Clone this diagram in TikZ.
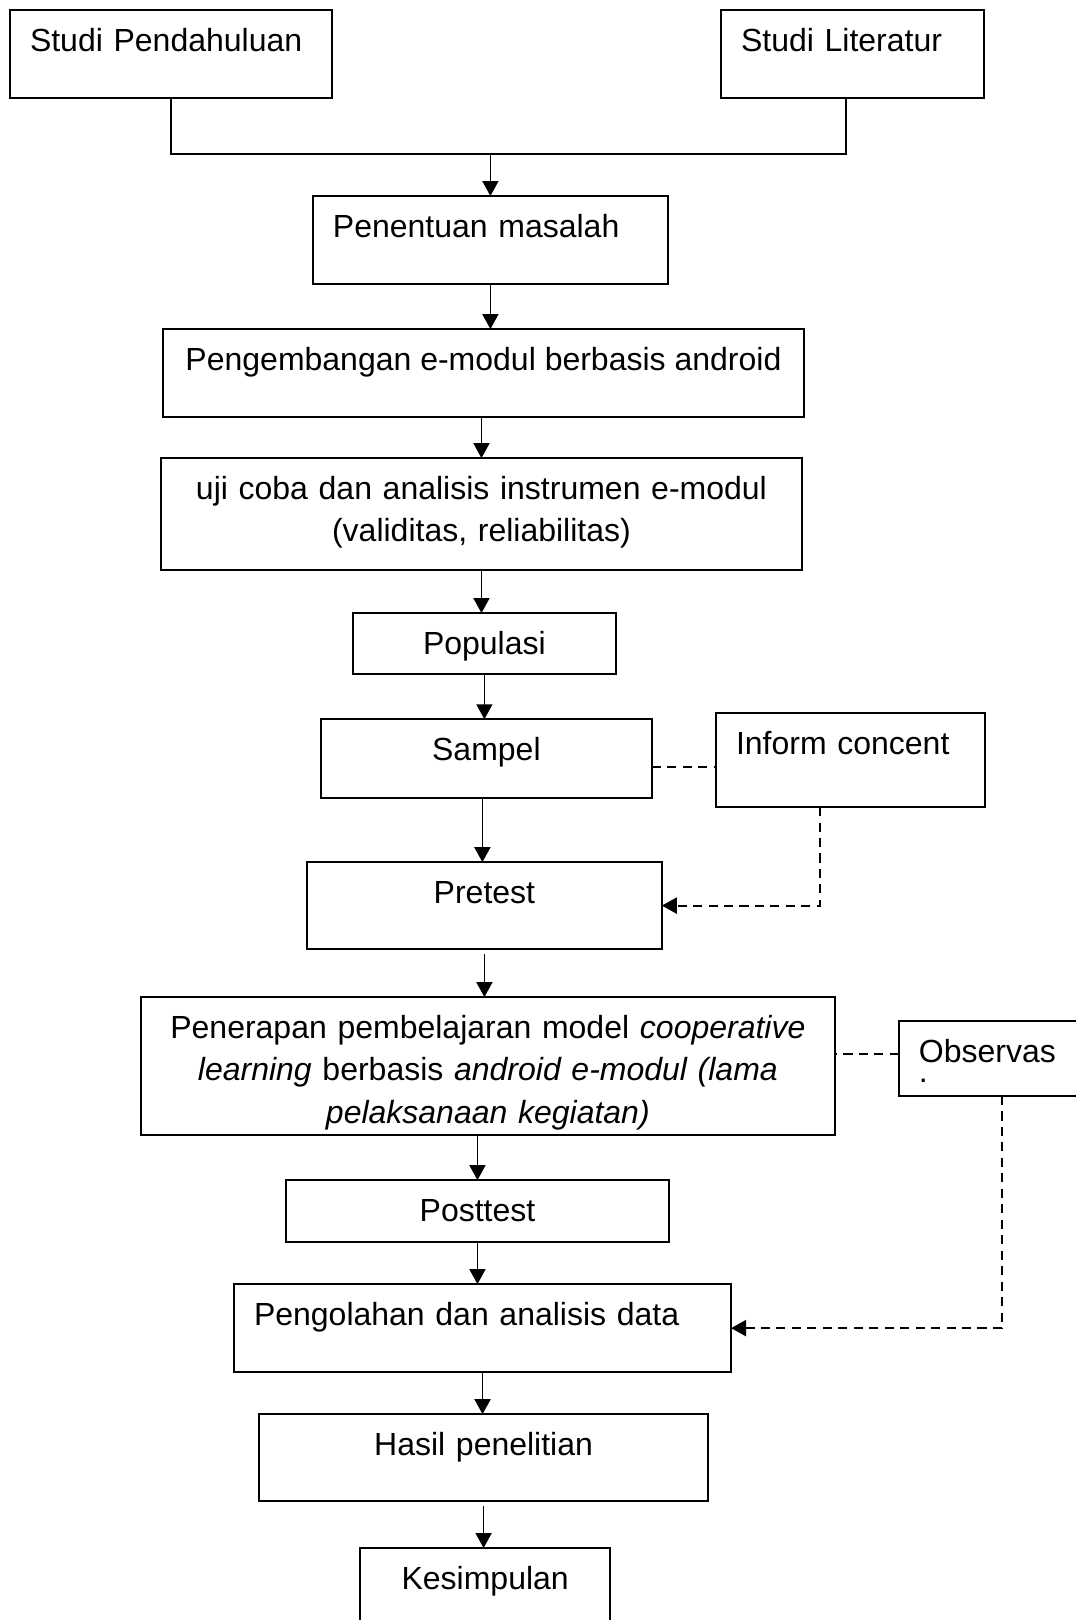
\documentclass[tikz,border=0pt]{standalone}
\usepackage{fontspec}
\setmainfont{Liberation Sans}
\usetikzlibrary{arrows.meta, positioning}

\begin{document}
\begin{tikzpicture}[font=\fontsize{12}{16}\selectfont, line width=0.6pt,
    box/.style={draw, line width=0.75pt, outer sep=0pt, inner xsep=7.5pt, inner ysep=6.4pt, text height=9pt},
    arr/.style={-{Triangle[length=5.6pt, width=6pt]}},
    dash line/.style={line width=0.75pt, dash pattern=on 3.4pt off 2.4pt}]
    \useasboundingbox (0,0) rectangle (403.5pt,-607.5pt);
    \node[box, anchor=north west, text width=105.75pt, text depth=11.2pt, align=left] (pend) at (3.75pt,-3.75pt) {Studi Pendahuluan};
    \node[box, anchor=north west, text width=83.6pt, text depth=11.2pt, align=left] (lit) at (270.4pt,-3.75pt) {Studi Literatur};
    \node[box, anchor=north, text width=118.1pt, text depth=11.2pt, align=left] (masalah) at (183.9pt,-73.5pt) {Penentuan masalah};
    \node[box, minimum width=240.4pt, text depth=11.2pt, below=16.9pt of masalah, xshift=-2.6pt] (modul) {Pengembangan e-modul berbasis android};
    \node[box, text width=225.4pt, text depth=20.2pt, align=center, below=15.4pt of modul, xshift=-0.75pt] (uji) {uji coba dan analisis instrumen e-modul\\(validitas, reliabilitas)};
    \node[box, text width=83.6pt, text depth=1.1pt, align=center, below=16.1pt of uji, xshift=1.1pt] (pop) {Populasi};
    \node[box, text width=109.1pt, text depth=7.8pt, align=center, below=16.9pt of pop, xshift=0.75pt] (sampel) {Sampel};
    \node[box, anchor=north west, text width=85.9pt, text depth=13.45pt, align=left] (inform) at (268.5pt,-267.4pt) {Inform concent};
    \node[box, text width=118.1pt, text depth=10.8pt, align=center, below=24pt of sampel, xshift=-0.75pt] (pretest) {Pretest};
    \node[box, text width=245.25pt, text depth=29.95pt, align=center, below=18pt of pretest, xshift=1.3pt] (terap) {Penerapan pembelajaran model \textit{cooperative}\\\textit{learning} berbasis \textit{android e-modul (lama}\\\textit{pelaksanaan kegiatan)}};
    \node[box, anchor=north west, text width=70pt, text depth=6.3pt, align=left] (observas) at (337.1pt,-382.9pt) {Observas\\[-8.25pt].};
    \node[box, text width=128.6pt, text depth=1.45pt, align=center, below=16.9pt of terap, xshift=-3.9pt] (post) {Posttest};
    \node[box, text width=171.4pt, text depth=11.2pt, align=left, below=15.75pt of post, xshift=1.9pt] (olah) {Pengolahan dan analisis data};
    \node[box, text width=153.4pt, text depth=10.8pt, align=center, below=15.75pt of olah, xshift=0.4pt] (hasil) {Hasil penelitian};
    \node[box, text width=78.75pt, text depth=11.2pt, align=center, below=17.6pt of hasil, xshift=0.6pt] (simpul) {Kesimpulan};
    % alur utama
    \draw[line width=0.75pt] (pend.south) -- ++(0,-21pt) coordinate (bar) -| ([xshift=-2.6pt]lit.south);
    \draw[arr] (bar -| masalah.north) -- (masalah.north);
    \draw[arr] (masalah.south) -- (masalah.south |- modul.north);
    \draw[arr] (uji.north |- modul.south) -- (uji.north);
    \draw[arr] (uji.south) -- (uji.south |- pop.north);
    \draw[arr] (pop.south) -- (pop.south |- sampel.north);
    \draw[arr] ([xshift=-1.5pt]sampel.south) -- ([xshift=-1.5pt]sampel.south |- pretest.north);
    \draw[arr] ([yshift=-2pt]pretest.south) -- (pretest.south |- terap.north);
    \draw[arr] (post.north |- terap.south) -- (post.north);
    \draw[arr] (post.south) -- (post.south |- olah.north);
    \draw[arr] (olah.south) -- (olah.south |- hasil.north);
    \draw[arr] ([yshift=-2pt]hasil.south) -- (hasil.south |- simpul.north);
    % garis putus-putus
    \draw[dash line] ([yshift=-3.2pt]sampel.east) -- ([yshift=-3.2pt]sampel.east -| inform.west);
    \draw[dash line, arr] ([xshift=-11.4pt]inform.south) |- (pretest.east);
    \draw[dash line] ([yshift=1.7pt]observas.west) -- ([yshift=1.7pt]observas.west -| terap.east);
    \draw[dash line, arr] ([xshift=38.6pt]observas.south west) |- (olah.east);
\end{tikzpicture}
\end{document}
